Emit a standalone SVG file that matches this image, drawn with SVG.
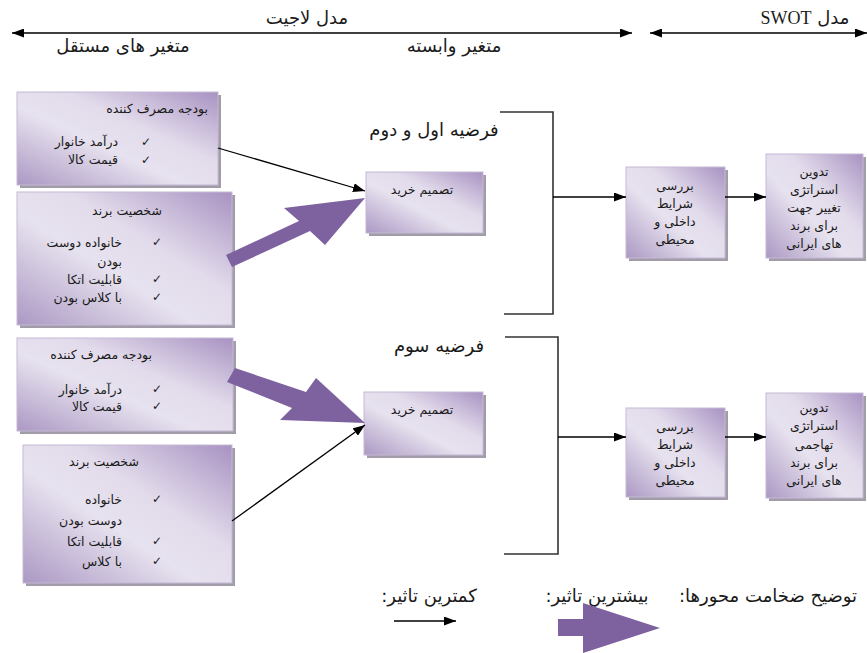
<svg xmlns="http://www.w3.org/2000/svg" width="867" height="653" viewBox="0 0 867 653">
<defs>
<linearGradient id="g" x1="0" y1="1" x2="1" y2="0">
<stop offset="0" stop-color="#ab98c3"/>
<stop offset="0.42" stop-color="#e7e2ef"/>
<stop offset="0.62" stop-color="#e2dbeb"/>
<stop offset="1" stop-color="#a892c2"/>
</linearGradient>
<marker id="ah" markerWidth="12" markerHeight="9" refX="12" refY="4.5" orient="auto" markerUnits="userSpaceOnUse">
<path d="M0,0 L12,4.5 L0,9 Z" fill="#000"/>
</marker>
<marker id="ahs" markerWidth="12" markerHeight="9" refX="0" refY="4.5" orient="auto" markerUnits="userSpaceOnUse">
<path d="M12,0 L0,4.5 L12,9 Z" fill="#000"/>
</marker>
</defs>
<style>
.box{fill:url(#g);stroke:#c6b9d6;stroke-width:1}
.sh{fill:#a19ca8}
.t{font-family:"DejaVu Sans",sans-serif;font-size:12.5px;fill:#1a1a1a;text-anchor:middle}
.tr{font-family:"DejaVu Sans",sans-serif;font-size:12.5px;fill:#1a1a1a;text-anchor:end}
.ck{font-family:"DejaVu Sans",sans-serif;font-size:12px;fill:#1a1a1a;text-anchor:middle}
.h{font-family:"DejaVu Sans",sans-serif;font-size:18px;fill:#1a1a1a;text-anchor:middle}
.lb{font-family:"DejaVu Sans",sans-serif;font-size:18px;fill:#1a1a1a;text-anchor:middle}
.ln{stroke:#000;stroke-width:1.3;fill:none}
.br{stroke:#333;stroke-width:1.6;fill:none}
.big{fill:#7e62a0}
</style>
<rect width="867" height="653" fill="#fff"/>

<g id="header">
<line class="ln" x1="12" y1="33" x2="632" y2="33" marker-start="url(#ahs)" marker-end="url(#ah)"/>
<line class="ln" x1="650" y1="33" x2="867" y2="33" marker-start="url(#ahs)" marker-end="url(#ah)"/>
<text class="h" x="307" y="24">مدل لاجیت</text>
<text class="h" x="805" y="24" direction="rtl">مدل  <tspan font-family="Liberation Serif" font-size="18">SWOT</tspan></text>
<text class="h" x="123" y="52">متغیر های مستقل</text>
<text class="h" x="454" y="52">متغیر وابسته</text>
</g>

<g id="budget1">
<rect class="sh" x="20" y="95" width="201" height="93"/>
<rect class="box" x="17" y="92" width="201" height="93"/>
<text class="tr" x="208" y="113">بودجه مصرف کننده</text>
<text class="ck" x="146" y="146">✓</text><text class="tr" x="118" y="146">درآمد خانوار</text>
<text class="ck" x="146" y="164">✓</text><text class="tr" x="118" y="164">قیمت کالا</text>
</g>

<g id="brand1">
<rect class="sh" x="20" y="195" width="215" height="133"/>
<rect class="box" x="17" y="192" width="215" height="133"/>
<text class="t" x="127" y="215">شخصیت برند</text>
<text class="ck" x="157" y="246">✓</text><text class="tr" x="122" y="247">خانواده دوست</text>
<text class="tr" x="122" y="266">بودن</text>
<text class="ck" x="157" y="283">✓</text><text class="tr" x="122" y="284">قابلیت اتکا</text>
<text class="ck" x="157" y="301">✓</text><text class="tr" x="122" y="302">با کلاس بودن</text>
</g>

<g id="budget2">
<rect class="sh" x="20" y="341" width="216" height="93"/>
<rect class="box" x="17" y="338" width="216" height="93"/>
<text class="tr" x="152" y="359">بودجه مصرف کننده</text>
<text class="ck" x="157" y="393">✓</text><text class="tr" x="122" y="394">درآمد خانوار</text>
<text class="ck" x="157" y="410">✓</text><text class="tr" x="122" y="411">قیمت کالا</text>
</g>

<g id="brand2">
<rect class="sh" x="26" y="448" width="209" height="138"/>
<rect class="box" x="23" y="445" width="209" height="138"/>
<text class="t" x="104" y="466">شخصیت برند</text>
<text class="ck" x="157" y="503">✓</text><text class="tr" x="122" y="504">خانواده</text>
<text class="tr" x="122" y="525">دوست بودن</text>
<text class="ck" x="157" y="545">✓</text><text class="tr" x="122" y="546">قابلیت اتکا</text>
<text class="ck" x="157" y="565">✓</text><text class="tr" x="122" y="566">با کلاس</text>
</g>

<g id="decision1">
<rect class="sh" x="369" y="175" width="117" height="61"/>
<rect class="box" x="366" y="172" width="117" height="61"/>
<text class="t" x="422" y="194" font-size="14">تصمیم خرید</text>
</g>

<g id="decision2">
<rect class="sh" x="367" y="395" width="119" height="63"/>
<rect class="box" x="364" y="392" width="119" height="63"/>
<text class="t" x="422" y="414" font-size="14">تصمیم خرید</text>
</g>

<g id="hyp-labels">
<text class="lb" x="434" y="136">فرضیه اول و دوم</text>
<text class="lb" x="439" y="352">فرضیه سوم</text>
</g>

<g id="analysis1">
<rect class="sh" x="629" y="170" width="99" height="91"/>
<rect class="box" x="626" y="167" width="99" height="91"/>
<text class="t" x="675" y="190">بررسی</text>
<text class="t" x="675" y="208">شرایط</text>
<text class="t" x="675" y="226">داخلی و</text>
<text class="t" x="675" y="244">محیطی</text>
</g>

<g id="strategy1">
<rect class="sh" x="769" y="157" width="97" height="104"/>
<rect class="box" x="766" y="154" width="97" height="104"/>
<text class="t" x="814" y="176">تدوین</text>
<text class="t" x="814" y="194">استراتژی</text>
<text class="t" x="814" y="212">تغییر جهت</text>
<text class="t" x="814" y="230">برای برند</text>
<text class="t" x="814" y="248">های ایرانی</text>
</g>

<g id="analysis2">
<rect class="sh" x="629" y="411" width="99" height="89"/>
<rect class="box" x="626" y="408" width="99" height="89"/>
<text class="t" x="675" y="431">بررسی</text>
<text class="t" x="675" y="449">شرایط</text>
<text class="t" x="675" y="467">داخلی و</text>
<text class="t" x="675" y="485">محیطی</text>
</g>

<g id="strategy2">
<rect class="sh" x="769" y="396" width="97" height="105"/>
<rect class="box" x="766" y="393" width="97" height="105"/>
<text class="t" x="814" y="412">تدوین</text>
<text class="t" x="814" y="430">استراتژی</text>
<text class="t" x="814" y="449">تهاجمی</text>
<text class="t" x="814" y="467">برای برند</text>
<text class="t" x="814" y="485">های ایرانی</text>
</g>

<g id="connectors">
<line class="ln" x1="218" y1="148" x2="365" y2="191" marker-end="url(#ah)"/>
<line class="ln" x1="232" y1="521" x2="365" y2="425" marker-end="url(#ah)"/>
<polygon class="big" points="226,255 299,221 284,208 365,198 325,245 310,231 232,267"/>
<polygon class="big" points="235,368 306,392 316,378 365,423 280,420 292,408 227,382"/>
<polyline class="br" points="500,112 553,112 553,314 504,314"/>
<polyline class="br" points="505,337 558,337 558,554 504,554"/>
<line class="ln" x1="553" y1="197" x2="626" y2="197" marker-end="url(#ah)"/>
<line class="ln" x1="725" y1="197" x2="766" y2="197" marker-end="url(#ah)"/>
<line class="ln" x1="558" y1="437" x2="626" y2="437" marker-end="url(#ah)"/>
<line class="ln" x1="725" y1="437" x2="766" y2="437" marker-end="url(#ah)"/>
</g>

<g id="legend">
<text class="lb" x="768" y="602" direction="rtl">توضیح ضخامت محورها:</text>
<text class="lb" x="597" y="602" direction="rtl">بیشترین تاثیر:</text>
<text class="lb" x="429" y="602" direction="rtl">کمترین تاثیر:</text>
<line class="ln" x1="394" y1="621" x2="456" y2="621" marker-end="url(#ah)"/>
<polygon class="big" points="558,619 583,619 583,603 660,628 583,653 583,636 558,636"/>
</g>
</svg>
